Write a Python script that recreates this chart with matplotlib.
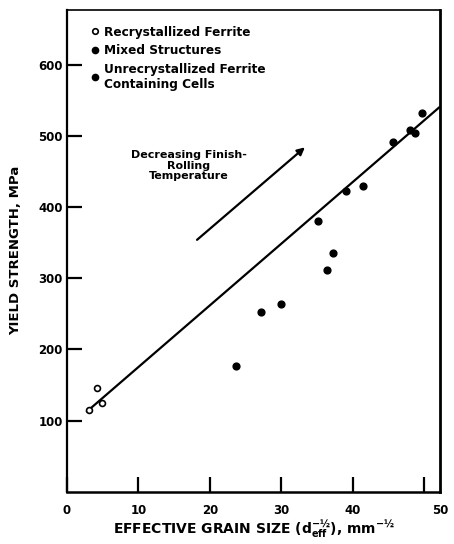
import matplotlib
matplotlib.use("Agg")
import matplotlib.pyplot as plt
from matplotlib.lines import Line2D
from matplotlib.transforms import ScaledTranslation

plt.rcParams['font.family'] = ['DejaVu Sans']
plt.rcParams['font.weight'] = 'bold'
plt.rcParams['mathtext.fontset'] = 'custom'
plt.rcParams['mathtext.rm'] = 'DejaVu Sans:bold'
plt.rcParams['mathtext.it'] = 'DejaVu Sans:bold'
plt.rcParams['mathtext.bf'] = 'DejaVu Sans:bold'

# Effective grain size (d_eff^-1/2, mm^-1/2) vs. yield strength (MPa)
recryst_x = [3.1, 4.2, 4.9]
recryst_y = [115, 146, 124]

mixed_x = [23.6, 27.2, 29.9, 35.1, 36.4, 37.3]
mixed_y = [177, 253, 264, 380, 312, 336]

unrecryst_x = [39.1, 41.4, 45.7, 48.0, 48.7, 49.7]
unrecryst_y = [423, 430, 491, 508, 504, 532]

# Least-squares line through all structures
fit_x = [2.7, 52.2]
fit_y = [112, 541]

# Trend arrow: decreasing finish-rolling temperature
arrow_x = [18.2, 33.3]
arrow_y = [354, 484]

x_ticks = [0, 10, 20, 30, 40, 50]
y_ticks = [100, 200, 300, 400, 500, 600]

fig = plt.figure(figsize=(4.54, 5.44), dpi=100)
ax = fig.add_axes([0.1476, 0.0961, 0.8214, 0.8855])

ax.plot(fit_x, fit_y, color='black', lw=1.6, zorder=2, solid_capstyle='butt')
ax.scatter(recryst_x, recryst_y, s=18, facecolors='white', edgecolors='black',
           linewidths=1.2, zorder=3)
ax.scatter(mixed_x, mixed_y, s=24, color='black', zorder=3)
ax.scatter(unrecryst_x, unrecryst_y, s=24, color='black', zorder=3)

ax.annotate('', xy=(arrow_x[1], arrow_y[1]), xytext=(arrow_x[0], arrow_y[0]),
            arrowprops=dict(arrowstyle='-|>', color='black', lw=1.6,
                            mutation_scale=11, shrinkA=0, shrinkB=0))
ax.text(17.0, 458, 'Decreasing Finish-\nRolling\nTemperature', ha='center',
        va='center', fontsize=8, fontweight='bold', linespacing=1.05)

handles = [
    Line2D([], [], ls='none', marker='o', ms=4, mfc='white', mec='black', mew=1.2),
    Line2D([], [], ls='none', marker='o', ms=4.5, mfc='black', mec='black'),
    Line2D([], [], ls='none', marker='o', ms=4.5, mfc='black', mec='black'),
]
labels = ['Recrystallized Ferrite', 'Mixed Structures',
          'Unrecrystallized Ferrite\nContaining Cells']
ax.legend(handles, labels, loc='upper left', bbox_to_anchor=(0.045, 0.985),
          frameon=False, prop={'size': 8.7, 'weight': 'bold'},
          handlelength=0.5, handletextpad=0.5, labelspacing=0.45,
          borderaxespad=0.3)

ax.set_xlim(0, 52.2)
ax.set_ylim(0, 677)
ax.set_xticks(x_ticks)
ax.set_yticks(y_ticks)
ax.tick_params(direction='in', length=11, width=1.6, labelsize=8.5)
ax.tick_params(axis='x', pad=9)
ax.tick_params(axis='y', pad=3)
for lab in ax.get_xticklabels() + ax.get_yticklabels():
    lab.set_fontweight('bold')
last = ax.get_xticklabels()[-1]
last.set_transform(last.get_transform() + ScaledTranslation(0.16, 0, fig.dpi_scale_trans))

for side, w in [('left', 1.6), ('bottom', 1.8), ('right', 2.0), ('top', 1.2)]:
    ax.spines[side].set_linewidth(w)

ax.set_ylabel('YIELD STRENGTH, MPa', fontsize=9.5, fontweight='bold')
ax.yaxis.set_label_coords(-0.121, 0.5)
ax.set_xlabel(r'EFFECTIVE GRAIN SIZE (d$_{eff}^{-½}$), mm$^{-½}$',
              fontsize=10, fontweight='bold')
ax.xaxis.set_label_coords(0.5, -0.056)

fig.savefig('out.png', dpi=100)
